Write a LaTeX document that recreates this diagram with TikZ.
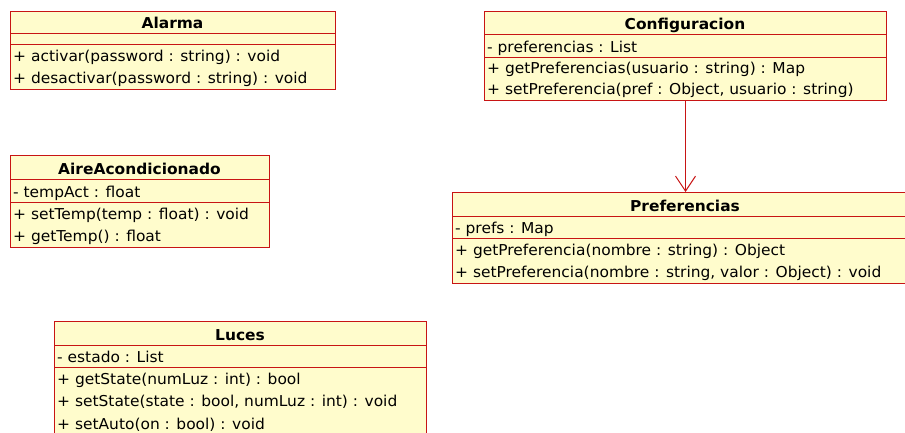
\documentclass[tikz,border=0pt]{standalone}
\usepackage{fontspec}
\setmainfont{DejaVu Sans}[FakeStretch=1.03]
\usetikzlibrary{arrows.meta}
\definecolor{umlred}{RGB}{200,20,20}
\definecolor{umlfill}{RGB}{255,252,204}
\begin{document}
\begin{tikzpicture}[x=1pt,y=-1pt,
  cls/.style={draw=umlred, fill=umlfill, line width=1pt, inner sep=0pt, anchor=north west},
  sep/.style={draw=umlred, line width=1pt},
  ttl/.style={anchor=base, inner sep=0pt, font=\fontsize{15}{17}\selectfont\bfseries},
  txt/.style={anchor=base west, inner sep=0pt, font=\fontsize{15}{17}\selectfont},
  assoc/.style={draw=umlred, line width=1pt, -{Straight Barb[length=15pt,width=20pt,line width=1pt]}}]
\useasboundingbox (0,0) rectangle (905,432);
\clip (0,0) rectangle (905,432);
\fill[white] (0,0) rectangle (905,432);

% Alarma
\node[cls, minimum width=325pt, minimum height=78pt] (alarma) at (10,11) {};
\draw[sep] (10,33) -- (335,33);
\draw[sep] (10,44) -- (335,44);
\node[ttl] (alarmaT) at (172.5,28) {Alarma};
\node[txt] (alarmaM1) at (13,61) {+ activar(password : string) : void};
\node[txt] (alarmaM2) at (13,83.5) {+ desactivar(password : string) : void};

% Configuracion
\node[cls, minimum width=402pt, minimum height=89pt] (conf) at (484,11) {};
\draw[sep] (484,34) -- (886,34);
\draw[sep] (484,57) -- (886,57);
\node[ttl] (confT) at (685,29) {Configuracion};
\node[txt] (confA1) at (487,52) {- preferencias : List};
\node[txt] (confM1) at (487,73) {+ getPreferencias(usuario : string) : Map};
\node[txt] (confM2) at (487,94.5) {+ setPreferencia(pref : Object, usuario : string)};

% AireAcondicionado
\node[cls, minimum width=259pt, minimum height=92pt] (aire) at (10,155) {};
\draw[sep] (10,179) -- (269,179);
\draw[sep] (10,202) -- (269,202);
\node[ttl] (aireT) at (139.5,174) {AireAcondicionado};
\node[txt] (aireA1) at (13,197) {- tempAct : float};
\node[txt] (aireM1) at (13,219) {+ setTemp(temp : float) : void};
\node[txt] (aireM2) at (13,241.5) {+ getTemp() : float};

% Preferencias
\node[cls, minimum width=466pt, minimum height=91pt] (pref) at (452,192) {};
\draw[sep] (452,216) -- (918,216);
\draw[sep] (452,238) -- (918,238);
\node[ttl] (prefT) at (685,211) {Preferencias};
\node[txt] (prefA1) at (455,233) {- prefs : Map};
\node[txt] (prefM1) at (455,255) {+ getPreferencia(nombre : string) : Object};
\node[txt] (prefM2) at (455,277.5) {+ setPreferencia(nombre : string, valor : Object) : void};

% Luces
\node[cls, minimum width=372pt, minimum height=115pt] (luces) at (54,321) {};
\draw[sep] (54,345) -- (426,345);
\draw[sep] (54,367) -- (426,367);
\node[ttl] (lucesT) at (240,340) {Luces};
\node[txt] (lucesA1) at (57,362) {- estado : List};
\node[txt] (lucesM1) at (57,384) {+ getState(numLuz : int) : bool};
\node[txt] (lucesM2) at (57,406.5) {+ setState(state : bool, numLuz : int) : void};
\node[txt] (lucesM3) at (57,429) {+ setAuto(on : bool) : void};

% association
\draw[assoc] (conf.south) -- (pref.north);
\end{tikzpicture}
\end{document}
